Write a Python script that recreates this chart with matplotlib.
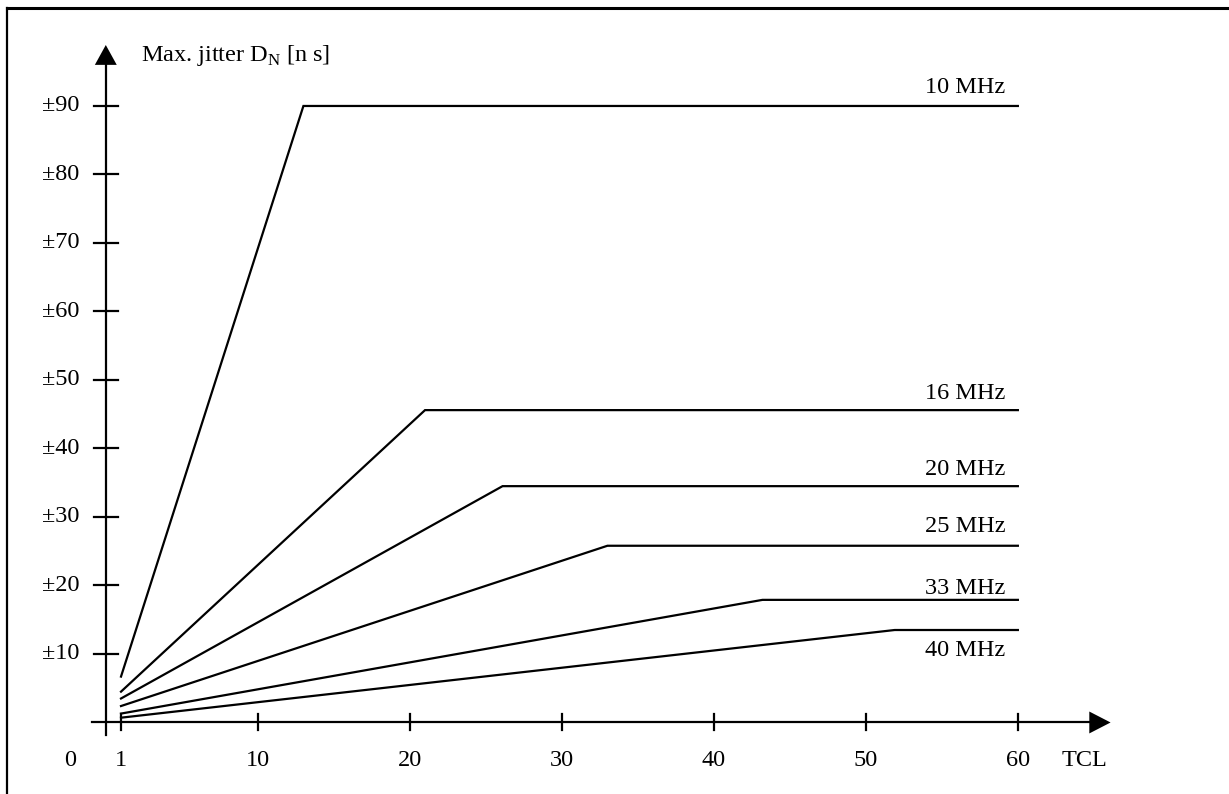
import numpy as np
import matplotlib
matplotlib.use("Agg")
import matplotlib.pyplot as plt

plt.rcParams['font.family'] = ['Liberation Serif', 'DejaVu Serif']
plt.rcParams['mathtext.fontset'] = 'custom'
plt.rcParams['mathtext.rm'] = 'Liberation Serif'

# jitter curves: linear rise from TCL=1 to a knee, then flat to TCL=60
freqs = ["10 MHz", "16 MHz", "20 MHz", "25 MHz", "33 MHz", "40 MHz"]
start_jitter = [6.7, 4.5, 3.5, 2.4, 1.3, 0.7]
knee_tcl = [13.0, 21.0, 26.1, 33.0, 43.2, 51.9]
max_jitter = [90.0, 45.6, 34.5, 25.8, 17.9, 13.5]
tcl_first = 1
tcl_last = 60

x_ticks = [1, 10, 20, 30, 40, 50, 60]
y_ticks = [10, 20, 30, 40, 50, 60, 70, 80, 90]
y_ticklabels = ["\u00b1%d" % v for v in y_ticks]

# label offsets in pixels above (+) / below (-) the plateau
label_dy = [18, 17, 17, 19, 11, -20]

fs = 17.5

fig = plt.figure(figsize=(12.29, 7.94), dpi=100)
ax = fig.add_axes([0, 0, 1, 1])
ax.set_xlim(-6.96, 73.89)
ax.set_ylim(-10.44, 105.47)
ax.axis('off')

# frame (top and left edge visible)
ax.plot([7 / 1229, 1], [1 - 8 / 794, 1 - 8 / 794], transform=ax.transAxes,
        color='k', lw=2.2, clip_on=False)
ax.plot([7 / 1229, 7 / 1229], [0, 1 - 8 / 794], transform=ax.transAxes,
        color='k', lw=1.6, clip_on=False)

lw = 1.6
# axes with arrowheads
ax.plot([-0.9, 64.8], [0, 0], color='k', lw=lw)
ax.fill([64.7, 66.1, 64.7], [-1.6, 0, 1.6], color='k', lw=0)
ax.plot([0, 0], [-1.8, 96.2], color='k', lw=lw)
ax.fill([-0.72, 0, 0.72], [96.0, 98.9, 96.0], color='k', lw=0)

for t in x_ticks:
    ax.plot([t, t], [-1.17, 1.17], color='k', lw=lw)
    ax.text(t, -5.5, str(t), ha='center', va='center', fontsize=fs)
ax.text(-2.36, -5.5, "0", ha='center', va='center', fontsize=fs)
ax.text(64.4, -5.5, "TCL", ha='center', va='center', fontsize=fs)

for v, lab in zip(y_ticks, y_ticklabels):
    ax.plot([-0.8, 0.8], [v, v], color='k', lw=lw)
    ax.text(-1.76, v, lab, ha='right', va='center', fontsize=fs)

ax.text(2.3, 97.3, r"Max. jitter D$_{\rm N}$ [n s]", ha='left', va='center',
        fontsize=fs)

for name, y0, xk, ym, dy in zip(freqs, start_jitter, knee_tcl, max_jitter, label_dy):
    ax.plot([tcl_first, xk, tcl_last], [y0, ym, ym], color='k', lw=lw,
            solid_joinstyle='miter')
    ax.annotate(name, xy=(59.2, ym), xytext=(0, dy * 0.72),
                textcoords='offset points', ha='right', va='center',
                fontsize=fs)

fig.savefig("out.png", dpi=100)
